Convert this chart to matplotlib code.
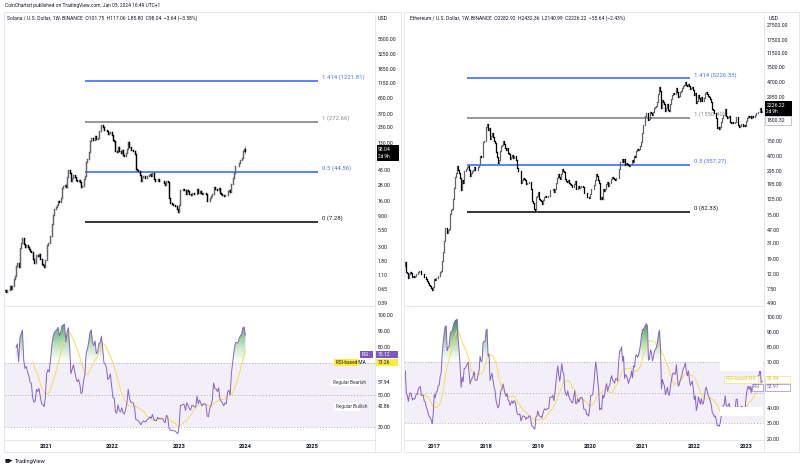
import numpy as np
import pandas as pd
import matplotlib
matplotlib.use("Agg")
import matplotlib.pyplot as plt
import matplotlib.dates as mdates
from matplotlib.ticker import FixedLocator, FuncFormatter, NullLocator, NullFormatter
from matplotlib.path import Path
from matplotlib.colors import LinearSegmentedColormap
from matplotlib.patches import Rectangle
from matplotlib.lines import Line2D

plt.rcParams['font.family'] = ['Roboto', 'DejaVu Sans']

W, H = 800, 468

# ---------------- data (weekly closes) ----------------
sol_start = "2020-04-13"
sol_open0 = 0.80
sol_close = [
    0.72, 0.65, 0.62, 0.66, 0.60,
    0.62, 0.58, 0.62, 0.63, 0.72, 0.66, 0.72,
    0.95, 1.05, 1.50, 1.65,
    1.45, 2.90, 3.50, 4.20, 3.30,
    3.00, 3.15, 2.95, 2.80,
    2.55, 2.50, 1.90, 1.65,
    1.70, 2.25, 2.15, 2.30, 1.95,
    1.60, 1.55, 1.45, 1.85,
    # 2021
    3.20, 3.50, 3.40, 4.50,
    6.80, 9.50, 11.8, 12.8,
    13.8, 15.7, 15.0, 17.8, 25.0,
    27.0, 28.5, 26.0, 37.0,
    48.0, 43.0, 32.0, 36.0, 40.0,
    37.0, 34.0, 32.0, 33.5,
    31.5, 26.5, 27.5, 35.0,
    39.0, 65.0, 73.0, 92.0, 138.0,
    157.0, 146.0, 142.0, 164.0,
    150.0, 156.0, 198.0, 202.0,
    251.0, 232.0, 207.0, 205.0, 198.0,
    176.0, 182.0, 194.0, 170.0,
    # 2022
    141.0, 140.0, 98.0, 94.0,
    113.0, 95.0, 90.0, 99.0,
    83.0, 80.0, 89.0, 102.0, 135.0,
    112.0, 101.0, 101.0, 98.0,
    87.0, 50.0, 49.0, 46.0, 40.0,
    33.0, 37.0, 39.0, 36.0,
    36.5, 39.0, 40.0, 42.0,
    39.0, 43.0, 35.0, 32.0, 32.0,
    35.0, 33.0, 33.0, 33.0,
    32.5, 30.0, 28.0, 32.5, 31.0,
    17.5, 14.5, 14.2, 13.8,
    13.8, 13.2, 11.6, 10.4,
    # 2023
    13.7, 23.4, 23.5, 24.0,
    23.8, 20.2, 23.8, 22.3,
    20.1, 19.5, 21.4, 21.1, 20.6,
    20.5, 24.5, 21.2, 22.6,
    21.4, 20.0, 20.8, 20.7, 20.6,
    15.8, 15.5, 17.7, 18.7,
    20.1, 26.2, 24.5, 24.3, 23.5,
    24.8, 21.2, 20.5, 19.8,
    18.9, 19.7, 19.4, 22.5,
    23.1, 21.8, 29.5, 35.7, 44.2,
    55.8, 56.7, 56.5, 63.0,
    70.0, 73.5, 97.0, 101.75,
    # 2024
    98.04,
]
sol_last_high = 117.06
sol_last_low = 85.80

eth_start = "2016-03-07"
eth_open0 = 11.0
eth_close = [
    12.5, 12.0, 10.6, 11.5, 10.3, 8.2, 8.0, 7.6, 9.3, 9.8, 13.0, 12.8, 13.9, 15.3, 17.3, 12.7, 12.2,
    10.6, 11.9, 12.6, 12.3, 10.9, 11.2, 11.0, 11.3, 12.0, 11.9, 12.8, 13.1, 13.3,
    11.9, 11.9, 11.9, 11.0, 10.9, 10.1, 9.7, 9.0, 8.5, 8.3, 7.8, 7.2, 8.1,
    # 2017
    10.2, 9.8, 10.5, 10.6,
    11.3, 11.4, 12.7, 13.2, 17.8,
    23.5, 33.0, 50.0, 50.5,
    43.0, 47.5, 49.0, 77.0,
    88.0, 89.0, 124.0, 173.0, 245.0,
    276.0, 348.0, 308.0, 280.0,
    236.0, 162.0, 220.0, 200.0, 295.0,
    295.0, 310.0, 330.0, 345.0,
    300.0, 255.0, 280.0, 290.0,
    305.0, 335.0, 300.0, 300.0, 300.0,
    330.0, 355.0, 470.0, 450.0,
    455.0, 720.0, 750.0, 750.0,
    # 2018
    1150, 1270, 1050, 1110, 800,
    870, 950, 850, 750,
    700, 530, 450, 380,
    410, 540, 640, 670, 750,
    690, 610, 570, 610,
    520, 500, 430, 455,
    480, 445, 470, 470, 410,
    320, 295, 290, 295,
    200, 220, 235, 230,
    225, 195, 205, 200, 210,
    210, 170, 115, 110,
    90, 84, 130, 135, 155,
    # 2019
    125, 118, 115, 107,
    120, 132, 137, 132,
    132, 135, 136, 165,
    165, 165, 170, 155, 170,
    200, 235, 270, 245,
    230, 268, 315, 290,
    285, 230, 215, 207, 225,
    205, 195, 190, 180,
    180, 197, 215, 170, 170,
    185, 172, 180, 185,
    185, 180, 150, 150,
    148, 133, 133, 128, 143,
    # 2020
    166, 167, 168, 188,
    220, 265, 250, 225,
    200, 125, 130, 125, 170,
    158, 170, 195, 210,
    185, 200, 205, 230,
    245, 233, 230, 225, 240,
    240, 235, 310, 390,
    395, 430, 390, 430, 350,
    375, 370, 355, 340,
    365, 370, 410, 385,
    465, 460, 550, 575, 565,
    585, 640, 730, 970,
    # 2021
    1230, 1230, 1380, 1610,
    1800, 1780, 1450, 1490,
    1830, 1800, 1690, 1820, 2070,
    2140, 2240, 2540, 3220,
    3950, 3580, 2090, 2700, 2500,
    2380, 1900, 2100, 2330,
    1950, 1890, 2380, 2730,
    3160, 3290, 3240, 3230, 3930,
    3400, 2950, 3070, 3380,
    3540, 3840, 4170, 4290,
    4610, 4300, 4100, 4440, 4100,
    3800, 3940, 4060, 3680,
    # 2022
    3150, 3330, 2400, 2600,
    3100, 2880, 2630, 2920,
    2570, 2580, 2860, 3300, 3450,
    3220, 2990, 2920, 2730,
    2520, 2050, 1970, 1780, 1810,
    1530, 1130, 1140, 1070,
    1170, 1350, 1540, 1680,
    1700, 1990, 1600, 1550, 1570,
    1640, 1350, 1320, 1330,
    1320, 1310, 1360, 1570, 1570,
    1230, 1140, 1200, 1280,
    1270, 1190, 1220, 1200,
    # 2023
    1410, 1550, 1630, 1570, 1630, 1520, 1640, 1570, 1560,
    1670, 1780, 1780, 1860, 1860, 2090, 1850, 1870,
]

fib_ratio = [1.414, 1, 0.5, 0]
sol_fib_price = [1221.81, 272.66, 44.56, 7.28]
eth_fib_price = [5226.33, 1550.40, 357.27, 82.33]
fib_line_colors = ['#2962ff', '#787b86', '#2962ff', '#000000']
fib_text_colors = ['#4f74f6', '#8a8d96', '#4f74f6', '#131722']

sol_price_ticks = [5500, 3250, 1850, 1150, 650, 370, 230, 130, 48, 28, 16, 9, 5.5, 3, 1.8, 1.1, 0.65, 0.39]
eth_price_ticks = [27500, 17500, 11500, 7500, 4700, 2950, 1250, 750, 470, 295, 195, 125, 75, 47, 31, 19, 12, 7.5, 4.9]
sol_rsi_ticks = [100, 90, 80, 50, 30]
eth_rsi_ticks = [100, 90, 80, 70, 40, 30, 20]
sol_years = [2021, 2022, 2023, 2024, 2025]
eth_years = [2017, 2018, 2019, 2020, 2021, 2022, 2023]

sol_legend = "Solana / U.S. Dollar, 1W, BINANCE  O101.75  H117.06  L85.80  C98.04  \u22123.64 (\u22123.58%)"
eth_legend = "Ethereum / U.S. Dollar, 1W, BINANCE  O2282.92  H2432.36  L2140.99  C2226.22  \u221255.64 (\u22122.43%)"

# ---------------- helpers ----------------
fig = plt.figure(figsize=(W / 100, H / 100), dpi=100)
fig.patch.set_facecolor('white')
GRID = '#e0e3eb'
TXT = '#131722'


def px_axes(x0, y0, x1, y1):
    return fig.add_axes([x0 / W, 1 - y1 / H, (x1 - x0) / W, (y1 - y0) / H])


def ftext(x, y, s, **kw):
    kw.setdefault('fontsize', 3.7)
    kw.setdefault('color', TXT)
    kw.setdefault('va', 'center')
    return fig.text(x / W, 1 - y / H, s, **kw)


def frect(x0, y0, x1, y1, fc, ec='none', lw=0.5, z=5):
    fig.add_artist(Rectangle((x0 / W, 1 - y1 / H), (x1 - x0) / W, (y1 - y0) / H,
                             transform=fig.transFigure, facecolor=fc, edgecolor=ec, lw=lw, zorder=z))


def fline(x0, y0, x1, y1, color=GRID, lw=0.6):
    fig.add_artist(Line2D([x0 / W, x1 / W], [1 - y0 / H, 1 - y1 / H],
                          transform=fig.transFigure, color=color, lw=lw, zorder=6))


def yearnum(y):
    yi = int(np.floor(y))
    return mdates.date2num(pd.Timestamp(yi, 1, 1)) + (y - yi) * 365.25


def rsi(close, n=14):
    c = np.asarray(close, float)
    d = np.diff(c)
    up = np.clip(d, 0, None)
    dn = np.clip(-d, 0, None)
    au = np.full(len(c), np.nan)
    ad = np.full(len(c), np.nan)
    au[n] = up[:n].mean()
    ad[n] = dn[:n].mean()
    for i in range(n + 1, len(c)):
        au[i] = (au[i - 1] * (n - 1) + up[i - 1]) / n
        ad[i] = (ad[i - 1] * (n - 1) + dn[i - 1]) / n
    return 100 - 100 / (1 + au / ad)


def style_axis(ax):
    for s in ('top', 'left'):
        ax.spines[s].set_visible(False)
    for s in ('right', 'bottom'):
        ax.spines[s].set_color(GRID)
        ax.spines[s].set_linewidth(0.6)
    ax.yaxis.tick_right()
    ax.tick_params(axis='y', length=0, pad=2.2, labelsize=3.7, labelcolor=TXT)
    ax.tick_params(axis='x', length=0)
    ax.yaxis.set_minor_locator(NullLocator())
    ax.yaxis.set_minor_formatter(NullFormatter())


def draw_price(ax, start, open0, close, ticks, xlim, ylim, fib_prices, f0, f1, flab, lw):
    c = np.asarray(close, float)
    o = np.r_[open0, c[:-1]]
    x = mdates.date2num(pd.date_range(start, periods=len(c), freq='7D'))
    up = c >= o
    cols = np.where(up, '#63656c', '#000000')
    lc = ax.vlines(x, np.minimum(o, c), np.maximum(o, c), colors=list(cols), lw=lw, zorder=3)
    lc.set_capstyle('projecting')
    ax.set_yscale('log')
    tr = ax.get_yaxis_transform()
    for r, p, lcol, tcol in zip(fib_ratio, fib_prices, fib_line_colors, fib_text_colors):
        ax.plot([f0, f1], [p, p], transform=tr, color=lcol, lw=1.1, zorder=2, solid_capstyle='butt')
        ax.annotate(f'{r:g} ({p:.2f})', (flab, p), xycoords=tr, xytext=(0, 0.6),
                    textcoords='offset points', fontsize=4.3, color=tcol, va='bottom', ha='left', zorder=1)
    ax.set_xlim(*xlim)
    ax.set_ylim(*ylim)
    style_axis(ax)
    ax.yaxis.set_major_locator(FixedLocator(ticks))
    ax.yaxis.set_major_formatter(FuncFormatter(lambda v, p: f'{v:.2f}'))
    ax.set_xticks([])
    return x, c


def draw_rsi(ax, x, c, ticks, xlim, ylim, years):
    r = rsi(c)
    ma = pd.Series(r).rolling(14).mean().to_numpy()
    ax.axhspan(30, 70, color='#7e57c2', alpha=0.09, lw=0, zorder=0)
    for lv in (70, 50, 30):
        ax.axhline(lv, color='#a3a6af', lw=0.6, ls=(0, (1.2, 2.2)), zorder=1)
    rr = np.where(np.isnan(r), 70, r)
    poly = ax.fill_between(x, 70, rr, where=rr > 70, interpolate=True,
                           facecolor='none', edgecolor='none')
    paths = poly.get_paths()
    if paths:
        clip = Path.make_compound_path(*paths)
        cmap = LinearSegmentedColormap.from_list(
            'ob', [(0.55, 0.80, 0.55, 0.0), (0.30, 0.66, 0.32, 0.55), (0.10, 0.50, 0.15, 1.0)])
        im = ax.imshow(np.linspace(0, 1, 256).reshape(-1, 1), extent=(x[0], x[-1], 70, 100),
                       origin='lower', aspect='auto', cmap=cmap, zorder=1.5)
        im.set_clip_path(clip, transform=ax.transData)
    ax.plot(x, ma, color='#f3dc4c', lw=0.65, zorder=2)
    ax.plot(x, r, color='#8662c9', lw=0.7, zorder=3)
    ax.set_xlim(*xlim)
    ax.set_ylim(*ylim)
    style_axis(ax)
    ax.yaxis.set_major_locator(FixedLocator(ticks))
    ax.yaxis.set_major_formatter(FuncFormatter(lambda v, p: f'{v:.2f}'))
    ax.set_xticks([yearnum(y) for y in years])
    ax.set_xticklabels([str(y) for y in years])
    ax.tick_params(axis='x', pad=3.0, labelsize=4.1, labelcolor=TXT)
    for t in ax.get_xticklabels():
        t.set_fontweight('bold')


# ---------------- left: Solana ----------------
sol_xlim = (yearnum(2021 - 41 / 66.5), yearnum(2021 + 329 / 66.5))
axp = px_axes(5, 15, 375, 306)
sx, sc = draw_price(axp, sol_start, sol_open0, sol_close, sol_price_ticks, sol_xlim, (0.352, 13250),
                    sol_fib_price, 80 / 370, 312.7 / 370, 317 / 370, 1.05)
axp.vlines(sx[-1], sol_last_low, sol_last_high, color='#8a8c93', lw=0.6, zorder=2.6)
axr = px_axes(5, 308, 375, 440)
draw_rsi(axr, sx, sc, sol_rsi_ticks, sol_xlim, (22.1, 104.6), sol_years)

# ---------------- right: Ethereum ----------------
eth_xlim = (yearnum(2017 - 29 / 52), yearnum(2017 + 330 / 52))
axp2 = px_axes(405, 15, 764, 306)
ex, ec = draw_price(axp2, eth_start, eth_open0, eth_close, eth_price_ticks, eth_xlim, (4.43, 37500),
                    eth_fib_price, 61.7 / 359, 285 / 359, 289 / 359, 0.9)
axr2 = px_axes(405, 308, 764, 440)
draw_rsi(axr2, ex, ec, eth_rsi_ticks, eth_xlim, (19.05, 105.6), eth_years)

# ---------------- frames ----------------
frect(4, 12, 401, 452, 'none', GRID, 0.6, z=1)
frect(404, 12, 799, 452, 'none', GRID, 0.6, z=1)
fline(375, 440, 375, 452)
fline(764, 440, 764, 452)

# ---------------- texts ----------------
ftext(5, 5.5, "CoinChartist published on TradingView.com, Jan 05, 2024 16:49 UTC+1", fontsize=3.5)
ftext(7, 18.5, sol_legend, fontsize=3.6)
ftext(410, 18.5, eth_legend, fontsize=3.6)
ftext(378, 19, "USD", fontsize=3.8)
ftext(769, 19, "USD", fontsize=3.8)

# last price tags
frect(376.5, 145, 399, 161, '#000000')
ftext(378, 149.8, "98.04", color='white', fontsize=3.7, zorder=7)
ftext(378, 156.3, "2d 9h", color='white', fontsize=3.4, zorder=7)
frect(764.5, 101, 792, 115.5, '#000000')
ftext(766.5, 105.5, "2226.22", color='white', fontsize=3.7, zorder=7)
ftext(766.5, 111.8, "2d 9h", color='white', fontsize=3.4, zorder=7)
frect(764.5, 116.5, 791, 124.5, 'white', '#b2b5be', 0.5)
ftext(766.5, 120.5, "1800.32", fontsize=3.7, zorder=7)

# RSI tags (left)
frect(360, 350.5, 373, 357.5, '#7e57c2')
ftext(362, 354, "RSI", color='white', fontsize=3.4, zorder=7)
frect(375.5, 350.5, 398, 357.5, '#7e57c2')
ftext(378, 354, "75.12", color='white', fontsize=3.6, zorder=7)
frect(334, 358.5, 359, 365.5, '#ffeb3b')
ftext(335.5, 362, "RSI-based MA", fontsize=3.4, zorder=7)
frect(375.5, 358.5, 398, 365.5, '#ffeb3b')
ftext(378, 362, "73.26", fontsize=3.6, zorder=7)
frect(331, 378.5, 360, 386, 'white')
ftext(333, 382.3, "Regular Bearish", fontsize=3.4, color='#3a3d45', zorder=7)
frect(375.5, 378.5, 398, 386, 'white')
ftext(378, 382.3, "57.94", fontsize=3.6, zorder=7)
frect(334, 403, 360, 410.5, 'white')
ftext(336, 406.7, "Regular Bullish", fontsize=3.4, color='#3a3d45', zorder=7)
frect(375.5, 403, 398, 410.5, 'white')
ftext(378, 406.7, "42.86", fontsize=3.6, zorder=7)

# RSI tags (right)
frect(720, 361.5, 763, 371, 'white')
frect(720, 407, 763, 416, 'white')
frect(724, 375.5, 758, 382.5, 'white', '#f3e37a', 0.5)
ftext(726, 379, "RSI-based MA", fontsize=3.4, color='#e3c92a', zorder=7)
frect(764.5, 375.5, 790, 382.5, 'white', '#f3e37a', 0.5)
ftext(767, 379, "56.44", fontsize=3.6, color='#e3c92a', zorder=7)
frect(751.5, 383.5, 762.5, 390.5, 'white', '#9c84d8', 0.5)
ftext(753, 387, "RSI", fontsize=3.4, color='#7e57c2', zorder=7)
frect(764.5, 383.5, 790, 390.5, 'white', '#9c84d8', 0.5)
ftext(767, 387, "53.97", fontsize=3.6, color='#7e57c2', zorder=7)

# footer
ftext(5, 461, "\u25a0\u25b6", fontsize=3.6, color=TXT)
ftext(15, 461, "TradingView", fontsize=4.1, color=TXT)

fig.savefig("out.png", dpi=100)
